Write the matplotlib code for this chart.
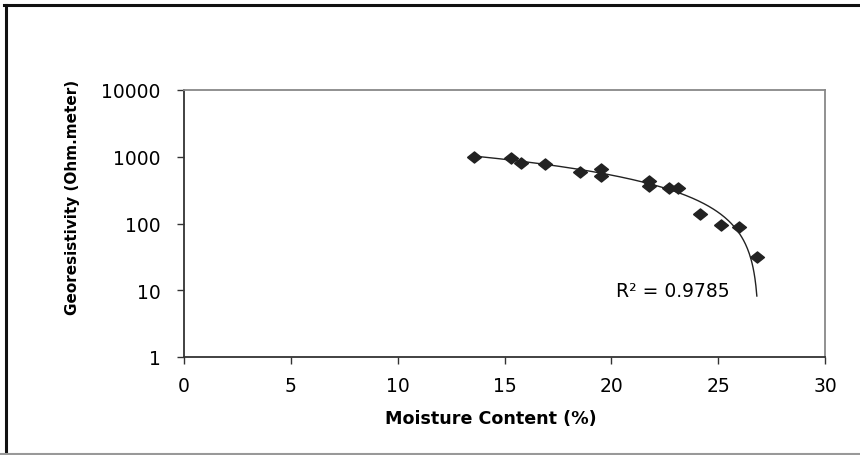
import matplotlib
matplotlib.use('Agg')
import matplotlib.pyplot as plt
from matplotlib.lines import Line2D
import numpy as np

# moisture content (%) vs georesistivity (Ohm.meter)
moisture = [13.57, 15.3, 15.79, 16.89, 18.53, 19.5, 19.5, 21.77, 21.77,
            22.72, 23.14, 24.16, 25.11, 25.97, 26.81]
resistivity = [1000, 960, 806, 787, 601, 651, 515, 433, 365,
               343, 343, 137, 95, 89, 32]
x_ticks = [0, 5, 10, 15, 20, 25, 30]
y_ticks = [1, 10, 100, 1000, 10000]
r2_text = 'R\u00b2 = 0.9785'

plt.rcParams['font.family'] = 'DejaVu Sans'

fig = plt.figure(figsize=(8.6, 4.56), dpi=100)
ax = fig.add_axes([184/860, 98/456, 641/860, 267/456])

ax.set_yscale('log')
ax.set_xlim(0, 30)
ax.set_ylim(1, 10000)

# linear trendline (excel style), drawn on the log axis
slope, icept = np.polyfit(moisture, resistivity, 1)
xs = np.linspace(min(moisture), max(moisture), 300)
ax.plot(xs, slope*xs + icept, color='#222222', lw=1.0, zorder=2)

# slightly wide diamond like the original
diamond = [(-1, 0), (0, 0.8), (1, 0), (0, -0.8), (-1, 0)]
ax.plot(moisture, resistivity, linestyle='none', marker=diamond, markersize=10,
        color='#222222', zorder=3)

ax.text(20.2, 10, r2_text, fontsize=13.5, ha='left', va='center')

ax.set_xticks(x_ticks)
ax.set_xticklabels([str(v) for v in x_ticks])
ax.set_yticks(y_ticks)
ax.set_yticklabels([str(v) for v in y_ticks])
ax.minorticks_off()
ax.tick_params(axis='both', labelsize=13.5, length=5, width=1, color='#333333', direction='out')
ax.tick_params(axis='x', pad=9)
ax.tick_params(axis='y', pad=12)

ax.spines['left'].set_color('#333333')
ax.spines['bottom'].set_color('#333333')
ax.spines['top'].set_color('#888888')
ax.spines['right'].set_color('#888888')
for s in ax.spines.values():
    s.set_linewidth(1.3)

fig.text(491/860, 1 - 419/456, 'Moisture Content (%)', fontsize=12.6, fontweight='bold',
         ha='center', va='center')
fig.text(72/860, 1 - 197/456, 'Georesistivity (Ohm.meter)', fontsize=11, fontweight='bold',
         rotation=90, ha='center', va='center')

# outer frame (top/left dark, bottom grey, no right side)
fig.add_artist(Line2D([4/860, 1], [1 - 5.5/456]*2, color='#111111', lw=2.2, transform=fig.transFigure))
fig.add_artist(Line2D([5.5/860]*2, [0, 1 - 5.5/456], color='#111111', lw=2.2, transform=fig.transFigure))
fig.add_artist(Line2D([0, 1], [1.5/456]*2, color='#999999', lw=1.5, transform=fig.transFigure))

fig.savefig('out.png', dpi=100)
